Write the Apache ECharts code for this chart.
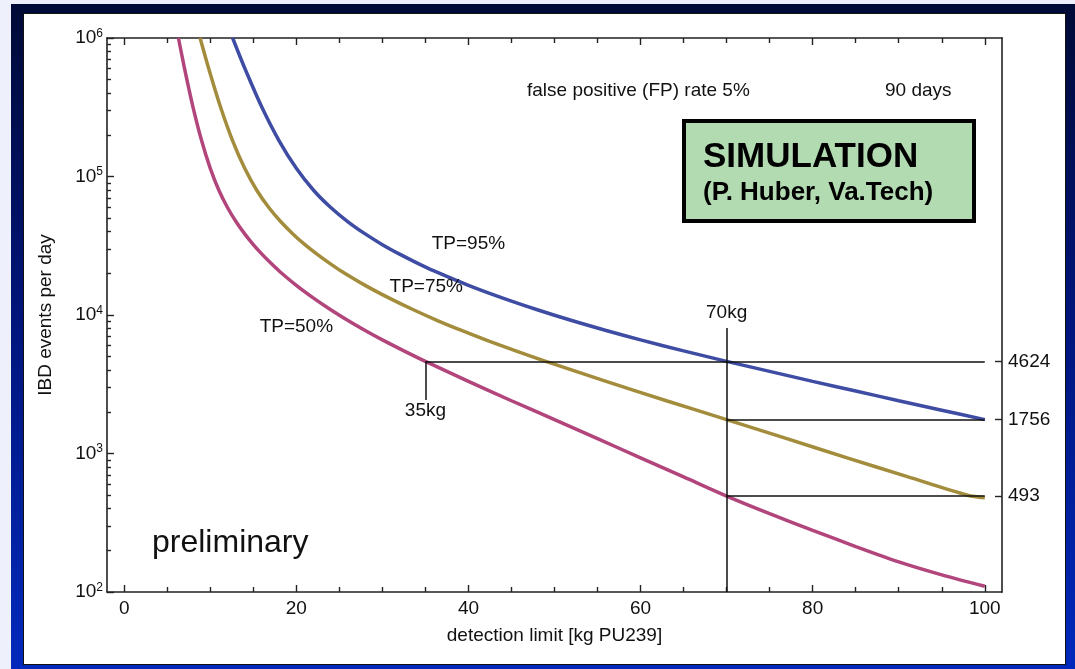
<!DOCTYPE html>
<html lang="en">
<head>
  <meta charset="UTF-8">
  <title>IBD events per day vs detection limit</title>
  <style>
    html, body { margin: 0; padding: 0; background: #eef0fb; }
    .frame { position: absolute; left: 11px; top: 4px; width: 1064px; height: 665px;
      background: linear-gradient(to bottom, #000a36 0%, #001478 45%, #0029bc 100%); }
    .paper { position: absolute; left: 23px; top: 13px; width: 1043px; height: 652px;
      background: #fff; border: 1px solid #111; box-sizing: border-box; }
    #chart { position: absolute; left: 0; top: 0; width: 1075px; height: 669px; }
  </style>
</head>
<body>
  <div class="frame"></div>
  <div class="paper"></div>
  <div id="chart"></div>

  <script src="https://cdn.jsdelivr.net/npm/echarts@6/dist/echarts.min.js"></script>
  <script>
    // curves: [detection limit kg, IBD events per day]
    const tp50 = [[6.3, 1e6], [7, 6.07e5], [8, 3.16e5], [9, 1.81e5], [10, 1.146e5], [11, 7.96e4],
      [12, 5.97e4], [13, 4.71e4], [14, 3.85e4], [15, 3.22e4], [16, 2.75e4], [17, 2.38e4],
      [18, 2.08e4], [20, 1.637e4], [22, 1.324e4], [24, 1.091e4], [26, 9120], [28, 7730],
      [30, 6610], [32.5, 5510], [35, 4624], [40, 3319], [45, 2404], [50, 1756], [55, 1279],
      [60, 931], [65, 678], [70, 493], [75, 368], [80, 279], [85, 213], [90, 165], [95, 133],
      [100, 110]]
    const tp75 = [[8.82, 1e6], [9.8, 6.07e5], [11.2, 3.16e5], [12.6, 1.81e5], [14, 1.146e5],
      [15.4, 7.96e4], [16.8, 5.97e4], [18.2, 4.71e4], [19.6, 3.85e4], [21, 3.22e4], [22.4, 2.75e4],
      [23.8, 2.38e4], [25.2, 2.08e4], [28, 1.637e4], [30.8, 1.324e4], [33.6, 1.091e4],
      [36.4, 9120], [39.2, 7730], [42, 6610], [45.5, 5510], [49, 4624], [56, 3319],
      [63, 2404], [70, 1756], [77, 1279], [84, 931], [91, 680], [98, 500], [100, 480]]
    const tp95 = [[12.6, 1e6], [14, 6.07e5], [16, 3.16e5], [18, 1.81e5], [20, 1.146e5], [22, 7.96e4],
      [24, 5.97e4], [26, 4.71e4], [28, 3.85e4], [30, 3.22e4], [32, 2.75e4], [34, 2.38e4],
      [36, 2.08e4], [40, 1.637e4], [44, 1.324e4], [48, 1.091e4], [52, 9120], [56, 7730],
      [60, 6610], [65, 5510], [70, 4624], [75, 3917], [80, 3319], [85, 2825], [90, 2404],
      [95, 2055], [100, 1756]]

    const curveNames = ['TP=50%', 'TP=75%', 'TP=95%']
    const curveColors = ['#b2467c', '#a38c3c', '#3e4ca3']
    // where the curve labels sit, in data units
    const curveLabelAt = [[20, 8200], [35.1, 15900], [40, 32700]]

    const xMajor = [0, 20, 40, 60, 80, 100]
    const xMinor = [5, 10, 15, 25, 30, 35, 45, 50, 55, 65, 70, 75, 85, 90, 95]
    const yDecades = [100, 1000, 10000, 100000]
    const yMantissa = [2, 3, 4, 5, 6, 7, 8, 9]
    const rightTicks = [4624, 1756, 493]

    // read-off guides: 35 kg and 70 kg
    const massMarks = [35, 70]

    const yMinorLog = []
    yDecades.forEach(d => yMantissa.forEach(m => yMinorLog.push(Math.log10(d * m))))

    const txt = '#111'
    const font = 'Liberation Sans, Arial, sans-serif'

    let myChart = echarts.init(document.getElementById('chart'))

    const axisLine = { show: true, onZero: false, lineStyle: { color: '#222', width: 1.6 } }
    const noLine = { show: false, onZero: false }
    function xAx(pos, ticks, len, showLine, showLabel) {
      return {
        type: 'value', position: pos, min: -2, max: 102,
        axisLine: showLine ? axisLine : noLine,
        axisTick: { show: true, inside: true, length: len, customValues: ticks, lineStyle: { color: '#222', width: 1.4 } },
        axisLabel: showLabel ? { show: true, customValues: ticks, fontSize: 19, color: txt, fontFamily: font, margin: 7 } : { show: false },
        splitLine: { show: false }
      }
    }

    let xAxes = [
      xAx('bottom', xMajor, 7, true, true),
      xAx('bottom', xMinor, 5, false, false),
      xAx('top', xMajor, 7, true, false),
      xAx('top', xMinor, 5, false, false)
    ]
    xAxes[0].name = 'detection limit [kg PU239]'
    xAxes[0].nameLocation = 'middle'
    xAxes[0].nameGap = 34
    xAxes[0].nameTextStyle = { fontSize: 19, color: txt, fontFamily: font }

    let yAxes = [
      {
        type: 'log', logBase: 10, min: 100, max: 1e6, position: 'left',
        name: 'IBD events per day', nameLocation: 'middle', nameGap: 52,
        nameTextStyle: { fontSize: 19, color: txt, fontFamily: font },
        axisLine: axisLine,
        axisTick: { show: true, inside: true, length: 7, lineStyle: { color: '#222', width: 1.4 } },
        axisLabel: {
          fontSize: 19, color: txt, fontFamily: font, margin: 4,
          formatter: v => '10{s|' + Math.round(Math.log10(v)) + '}',
          rich: { s: { fontSize: 12, color: txt, fontFamily: font, padding: [0, 0, 9, 0] } }
        },
        splitLine: { show: false }, minorTick: { show: false }
      },
      {
        type: 'value', min: 2, max: 6, position: 'left',
        axisLine: noLine,
        axisTick: { show: true, inside: true, length: 4, customValues: yMinorLog, lineStyle: { color: '#222', width: 1.4 } },
        axisLabel: { show: false },
        splitLine: { show: false }
      },
      {
        type: 'value', min: 2, max: 6, position: 'right',
        axisLine: axisLine,
        axisTick: { show: true, inside: true, length: 7, customValues: rightTicks.map(Math.log10), lineStyle: { color: '#222', width: 1.4 } },
        axisLabel: {
          show: true, customValues: rightTicks.map(Math.log10), fontSize: 19, color: txt, fontFamily: font, margin: 6,
          formatter: v => String(Math.round(Math.pow(10, v)))
        },
        splitLine: { show: false }
      }
    ]

    function textPoint(coord, label, size) {
      return {
        coord: coord, symbol: 'circle', symbolSize: 1, itemStyle: { color: 'rgba(0,0,0,0)' },
        label: { show: true, position: 'inside', formatter: label, fontSize: size || 19, color: txt, fontFamily: font }
      }
    }

    let curves = [tp50, tp75, tp95].map((d, i) => ({
      name: curveNames[i], type: 'line', data: d, smooth: 0.3,
      showSymbol: false, silent: true,
      xAxisIndex: 0, yAxisIndex: 0, clip: true,
      lineStyle: { color: curveColors[i], width: 3.5 },
      markPoint: { silent: true, data: [textPoint(curveLabelAt[i], curveNames[i])] }
    }))

    const lo = massMarks[0], hi = massMarks[1]
    let guideLines = [
      [[lo, rightTicks[0]], [100, rightTicks[0]]],
      [[hi, rightTicks[1]], [100, rightTicks[1]]],
      [[hi, rightTicks[2]], [100, rightTicks[2]]],
      [[lo, rightTicks[0]], [lo, 2430]],
      [[hi, 100], [hi, 8070]]
    ].map(seg => [{ coord: seg[0] }, { coord: seg[1] }])

    let guides = {
      name: 'guides', type: 'line', data: [], xAxisIndex: 0, yAxisIndex: 0, silent: true,
      markLine: {
        silent: true, symbol: 'none', animation: false,
        label: { show: false },
        lineStyle: { color: '#111', width: 1.5, type: 'solid' },
        data: guideLines
      },
      markPoint: {
        silent: true,
        data: [textPoint([hi, 10350], hi + 'kg'), textPoint([lo, 2030], lo + 'kg')]
      }
    }

    let option = {
      animation: false,
      backgroundColor: 'transparent',
      textStyle: { fontFamily: font },
      grid: { left: 107, right: 73, top: 38, bottom: 77 },
      xAxis: xAxes,
      yAxis: yAxes,
      series: curves.concat([guides]),
      graphic: [
        { type: 'text', left: 527, top: 81, style: { text: 'false positive (FP) rate 5%', fontSize: 19, fill: txt, fontFamily: font } },
        { type: 'text', left: 885, top: 81, style: { text: '90 days', fontSize: 19, fill: txt, fontFamily: font } },
        { type: 'rect', shape: { x: 684, y: 121, width: 290, height: 100 }, style: { fill: '#b3dbb2', stroke: '#000', lineWidth: 4 } },
        { type: 'text', left: 703, top: 140, style: { text: 'SIMULATION', fontSize: 35, fontWeight: 'bold', fill: '#000', fontFamily: font } },
        { type: 'text', left: 703, top: 180, style: { text: '(P. Huber, Va.Tech)', fontSize: 26, fontWeight: 'bold', fill: '#000', fontFamily: font } },
        { type: 'text', left: 152, top: 527, style: { text: 'preliminary', fontSize: 32, fill: txt, fontFamily: font } }
      ]
    }
    myChart.setOption(option)
  </script>
</body>
</html>
